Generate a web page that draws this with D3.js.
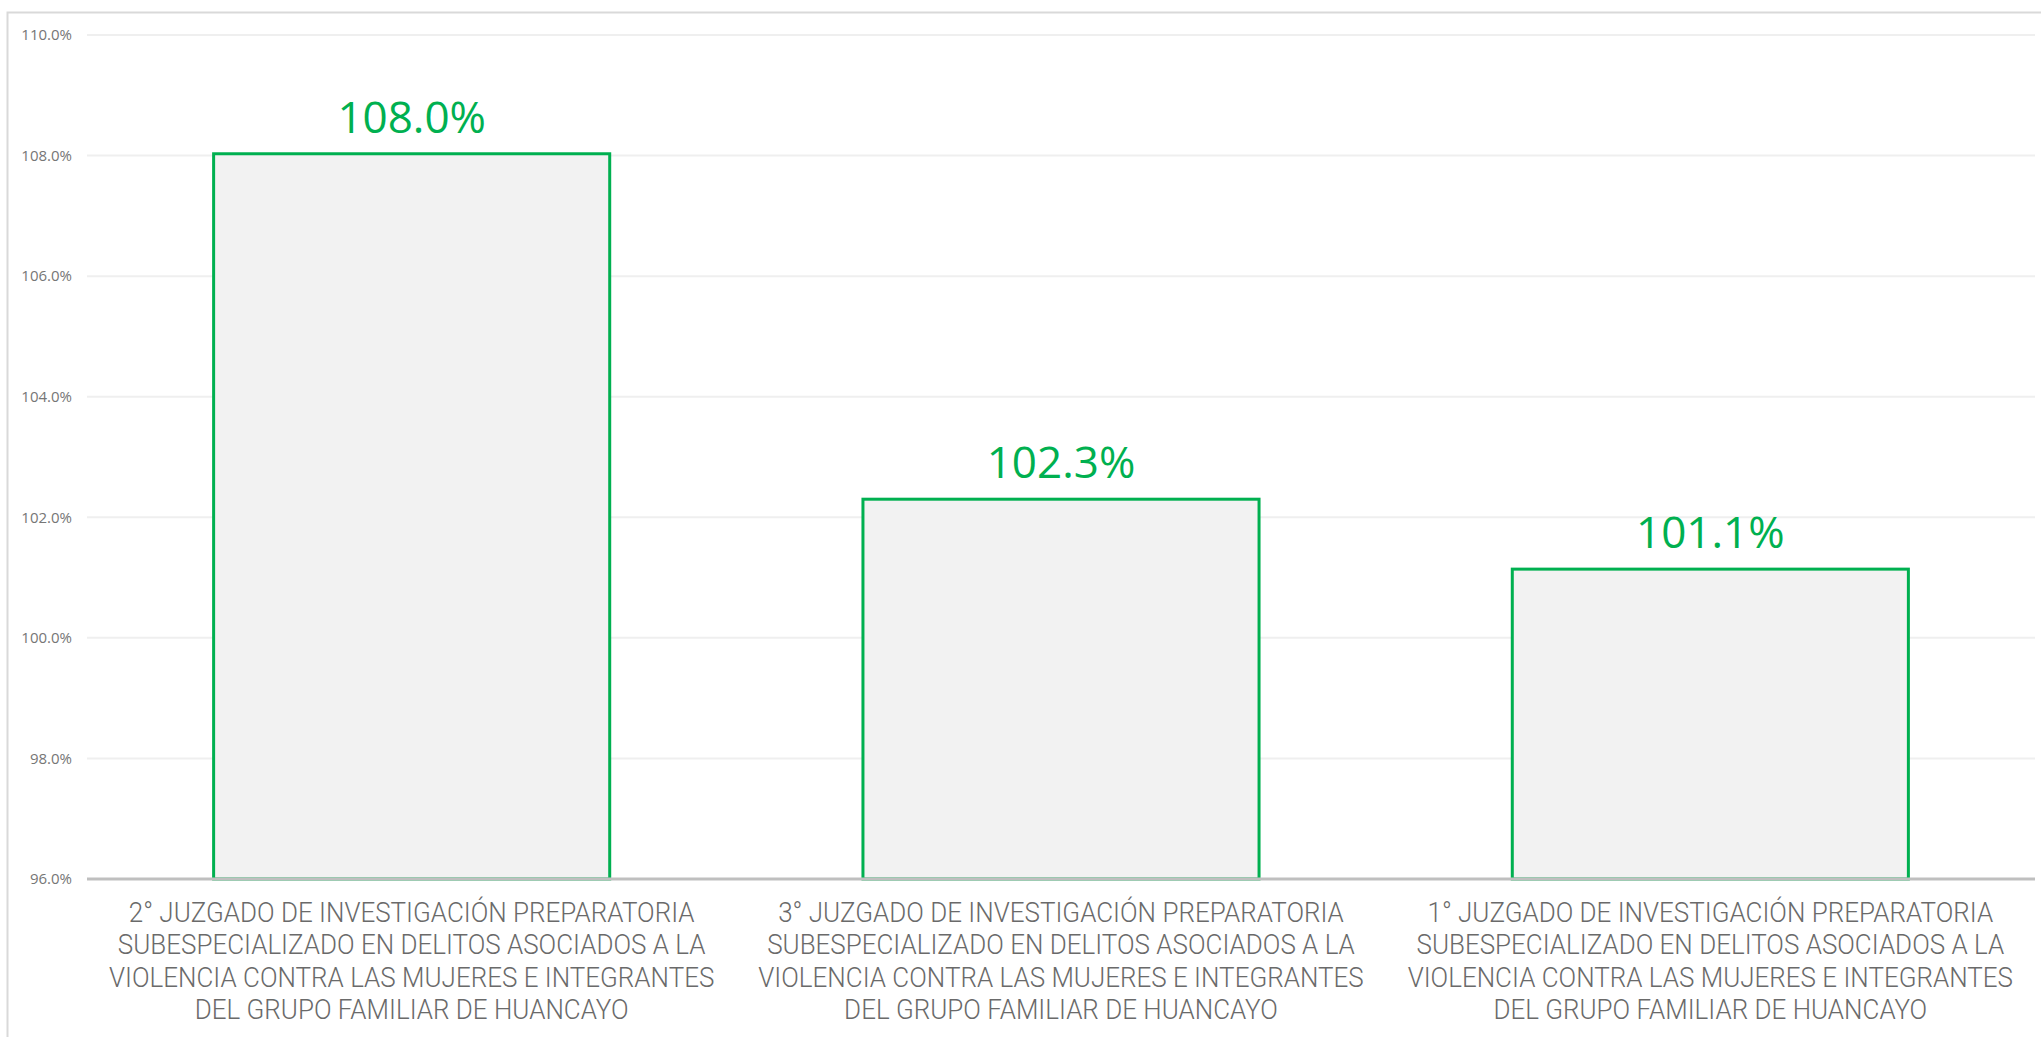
<!DOCTYPE html>
<html>
<head>
<meta charset="utf-8">
<script src="https://cdn.jsdelivr.net/npm/d3@7"></script>
<style>
  body { margin: 0; background: #fff; }
  svg { display: block; }
</style>
</head>
<body>
<svg id="chart" width="2041" height="1037"></svg>
<script>
// data
var categories = [
  "2° JUZGADO DE INVESTIGACIÓN PREPARATORIA|SUBESPECIALIZADO EN DELITOS ASOCIADOS A LA|VIOLENCIA CONTRA LAS MUJERES E INTEGRANTES|DEL GRUPO FAMILIAR DE HUANCAYO",
  "3° JUZGADO DE INVESTIGACIÓN PREPARATORIA|SUBESPECIALIZADO EN DELITOS ASOCIADOS A LA|VIOLENCIA CONTRA LAS MUJERES E INTEGRANTES|DEL GRUPO FAMILIAR DE HUANCAYO",
  "1° JUZGADO DE INVESTIGACIÓN PREPARATORIA|SUBESPECIALIZADO EN DELITOS ASOCIADOS A LA|VIOLENCIA CONTRA LAS MUJERES E INTEGRANTES|DEL GRUPO FAMILIAR DE HUANCAYO"
];
var values = [108.03, 102.3, 101.14];
var yTicks = [96, 98, 100, 102, 104, 106, 108, 110];

var W = 2041, H = 1037;
var margin = {top: 35, right: 6, bottom: 158, left: 87};

var svg = d3.select("#chart");

// outer frame
svg.append("rect")
   .attr("x", 7.5).attr("y", 12.5)
   .attr("width", W + 10).attr("height", H + 10)
   .attr("fill", "none").attr("stroke", "#d9d9d9").attr("stroke-width", 2);

var g = svg.append("g").attr("transform", "translate(" + margin.left + "," + margin.top + ")");
var iw = W - margin.left - margin.right;
var ih = H - margin.top - margin.bottom;

var x = d3.scaleBand().domain(d3.range(categories.length)).range([0, iw]).paddingInner(0.39).paddingOuter(0.195);
var y = d3.scaleLinear().domain([96, 110]).range([ih, 0]);

// gridlines
g.selectAll(".grid").data(yTicks.slice(1)).enter().append("line")
  .attr("class", "grid")
  .attr("x1", 0).attr("x2", iw)
  .attr("y1", function(d) { return y(d); }).attr("y2", function(d) { return y(d); })
  .attr("stroke", "#efefef").attr("stroke-width", 2);

// y axis labels
var yAxis = d3.axisLeft(y).tickValues(yTicks).tickSize(0).tickPadding(15)
  .tickFormat(function(d) { return d3.format(".1f")(d) + "%"; });
var ya = g.append("g").call(yAxis);
ya.select(".domain").remove();
ya.selectAll("text")
  .attr("fill", "#767676")
  .style("font-family", "'Open Sans', sans-serif")
  .style("font-size", "15px");

// bars
g.selectAll(".bar").data(values).enter().append("rect")
  .attr("class", "bar")
  .attr("x", function(d, i) { return x(i); })
  .attr("y", function(d) { return y(d); })
  .attr("width", x.bandwidth())
  .attr("height", function(d) { return ih - y(d); })
  .attr("fill", "#f2f2f2")
  .attr("stroke", "#00b050").attr("stroke-width", 3);

// value labels
g.selectAll(".val").data(values).enter().append("text")
  .attr("class", "val")
  .attr("x", function(d, i) { return x(i) + x.bandwidth() / 2; })
  .attr("y", function(d) { return y(d) - 21; })
  .attr("text-anchor", "middle")
  .attr("fill", "#00b050")
  .style("font-family", "'Open Sans', sans-serif")
  .style("font-size", "44px")
  .text(function(d) { return d3.format(".1f")(d) + "%"; });

// x axis line
g.append("line")
  .attr("x1", 0).attr("x2", iw)
  .attr("y1", ih).attr("y2", ih)
  .attr("stroke", "#bfbfbf").attr("stroke-width", 3);

// category labels: light font squeezed horizontally to match the narrow original
var catG = g.selectAll(".cat").data(categories).enter().append("g")
  .attr("class", "cat");
var cat = catG.append("text")
  .attr("text-anchor", "middle")
  .attr("fill", "#6a6a6a")
  .style("font-family", "Roboto, 'Open Sans', sans-serif")
  .style("font-size", "27px")
  .style("font-weight", "300");
cat.each(function(d) {
  var t = d3.select(this);
  d.split("|").forEach(function(line, k) {
    t.append("tspan")
      .attr("x", 0)
      .attr("y", k * 32.5)
      .text(line);
  });
});
var firstLine = cat.select("tspan").node().getComputedTextLength();
var squeeze = 566 / firstLine;
catG.attr("transform", function(d, i) {
  return "translate(" + (x(i) + x.bandwidth() / 2) + "," + (ih + 43) + ") scale(" + squeeze + ",1)";
});
</script>
</body>
</html>
